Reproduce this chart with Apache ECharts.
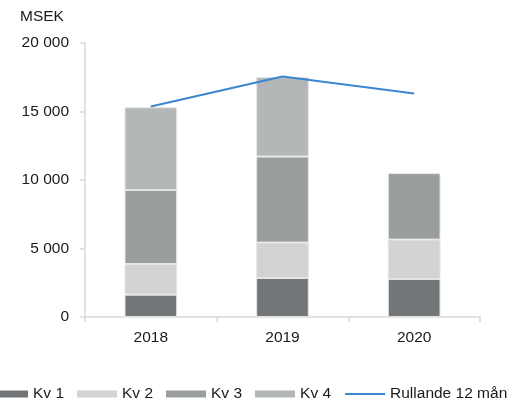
<!DOCTYPE html>
<html>
<head>
<meta charset="utf-8">
<script src="https://cdn.jsdelivr.net/npm/echarts@6/dist/echarts.min.js"></script>
<style>
  html, body { margin: 0; padding: 0; background: #ffffff; }
  #chart { width: 522px; height: 401px; }
</style>
</head>
<body>
<div id="chart"></div>
<script>
// chart data
var years = ["2018", "2019", "2020"];
var kv1 = [1630, 2850, 2780];
var kv2 = [2240, 2580, 2870];
var kv3 = [5400, 6280, 4850];
var kv4 = [6040, 5800, null];
var rolling12 = [15370, 17560, 16320];
var yTicks = { min: 0, max: 20000, interval: 5000 };

var font = "Liberation Sans";
var textColor = "#1a1a1a";
var axisColor = "#d9d9d9";

function thousands(v) {
  return String(v).replace(/\B(?=(\d{3})+(?!\d))/g, " ");
}

function barSeries(name, data, color) {
  return {
    name: name,
    type: "bar",
    stack: "total",
    data: data,
    barWidth: "40%",
    itemStyle: {
      color: color,
      borderColor: "#e4e5e5",
      borderWidth: 1
    }
  };
}

var chart = echarts.init(document.getElementById("chart"));
chart.setOption({
  backgroundColor: "#ffffff",
  animation: false,
  textStyle: { fontFamily: font },
  title: {
    text: "MSEK",
    left: 15,
    top: 4,
    textStyle: { fontFamily: font, fontSize: 15.5, fontWeight: "normal", color: textColor }
  },
  legend: {
    left: -12,
    top: 386,
    width: 700,
    padding: 0,
    itemWidth: 40,
    itemHeight: 7,
    itemGap: 13,
    itemStyle: { borderWidth: 0 },
    textStyle: { fontFamily: font, fontSize: 15.5, color: textColor },
    data: [
      { name: "Kv 1", icon: "rect" },
      { name: "Kv 2", icon: "rect" },
      { name: "Kv 3", icon: "rect" },
      { name: "Kv 4", icon: "rect" },
      { name: "Rullande 12 mån", itemStyle: { opacity: 0 } }
    ]
  },
  grid: {
    left: 85,
    right: 42,
    top: 43,
    bottom: 84,
    containLabel: false
  },
  xAxis: {
    type: "category",
    data: years,
    axisLine: { lineStyle: { color: axisColor, width: 1.5 } },
    axisTick: { show: true, length: 5, lineStyle: { color: axisColor, width: 1.5 } },
    axisLabel: { margin: 13, fontFamily: font, fontSize: 15.5, color: textColor }
  },
  yAxis: {
    type: "value",
    min: yTicks.min,
    max: yTicks.max,
    interval: yTicks.interval,
    axisLine: { show: true, lineStyle: { color: axisColor, width: 1.5 } },
    axisTick: { show: true, length: 5, lineStyle: { color: axisColor, width: 1.5 } },
    splitLine: { show: false },
    axisLabel: {
      margin: 16,
      fontFamily: font,
      fontSize: 15.5,
      color: textColor,
      formatter: thousands
    }
  },
  series: [
    barSeries("Kv 1", kv1, "#737678"),
    barSeries("Kv 2", kv2, "#d2d3d2"),
    barSeries("Kv 3", kv3, "#9a9d9e"),
    barSeries("Kv 4", kv4, "#b4b7b8"),
    {
      name: "Rullande 12 mån",
      type: "line",
      data: rolling12,
      symbol: "none",
      lineStyle: { color: "#3a87cf", width: 2 },
      itemStyle: { color: "#3a87cf" },
      z: 5
    }
  ]
});
</script>
</body>
</html>
